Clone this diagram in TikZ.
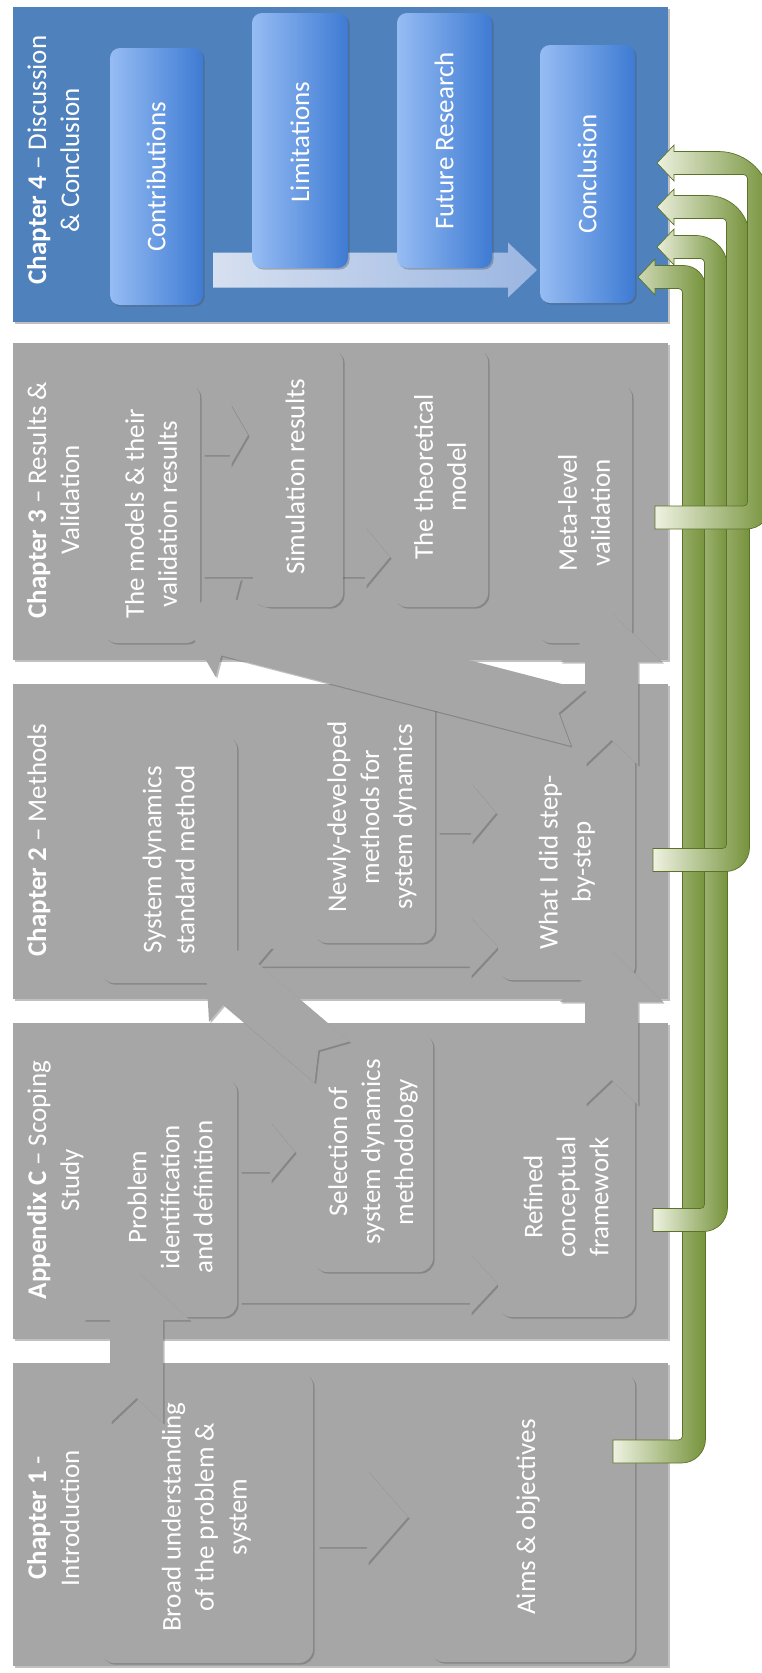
\documentclass[tikz,border=0pt]{standalone}
\usepackage{fontspec}
\setmainfont{Carlito}
\usetikzlibrary{calc,shadows}

\definecolor{bandgray}{HTML}{A6A6A6}
\definecolor{boxgray}{HTML}{A6A6A6}
\definecolor{bandblue}{HTML}{4F81BD}
\definecolor{boxbluelt}{HTML}{96BCF3}
\definecolor{boxbluedk}{HTML}{3E7BD3}
\definecolor{flowlt}{HTML}{E6EBF6}
\definecolor{flowdk}{HTML}{A3BCE6}
\definecolor{glight}{HTML}{EEF2E1}
\definecolor{ggreen}{HTML}{76933C}
\definecolor{gdark}{HTML}{5B7329}

\tikzset{
  softshadow/.style={drop shadow={shadow xshift=1.6pt, shadow yshift=-1.6pt, opacity=0.35, fill=black!70}},
  band/.style={fill=bandgray, inner sep=0pt, outer sep=0pt, softshadow},
  blueband/.style={fill=bandblue, inner sep=0pt, outer sep=0pt, softshadow},
  gbox/.style={fill=boxgray, rounded corners=14pt, inner sep=0pt, outer sep=0pt, softshadow},
  bbox/.style={rounded corners=10pt, inner sep=0pt, outer sep=0pt, left color=boxbluelt, right color=boxbluedk, softshadow},
  blockgray/.style={fill=boxgray, softshadow},
  flowarrow/.style={left color=flowlt, right color=flowdk, fill opacity=0.9},
  txt/.style={text=white, rotate=90, align=center, inner sep=0pt, font=\fontsize{27}{33}\selectfont},
  ttl/.style={txt, anchor=north},
}

% block arrow: tail, tip, shaft half-width, head half-width, head length, notch depth
\newcommand{\blockarrow}[7][blockgray]{%
  \coordinate (ba-h) at ($(#3)!#6!(#2)$);
  \coordinate (ba-n) at ($(#2)!#7!(#3)$);
  \path[#1] ($(#2)!#4!90:(#3)$) -- ($(ba-h)!#4!90:(#3)$) -- ($(ba-h)!#5!90:(#3)$) -- (#3)
     -- ($(ba-h)!#5!-90:(#3)$) -- ($(ba-h)!#4!-90:(#3)$) -- ($(#2)!#4!-90:(#3)$) -- (ba-n) -- cycle;}

% bent green arrow: tail x, tail y, riser x, head row y, tip x, outer radius of the upper bend
\newcommand{\bentarrow}[6]{%
  \shade[left color=glight, right color=ggreen, draw=gdark, line width=0.7pt]
    (#1,#2-11.5) [rounded corners=4pt] -- (#3-11.5,#2-11.5) -- (#3-11.5,#4+11.5)
    [sharp corners] -- (#5+17,#4+11.5) -- (#5+17,#4+18) -- (#5,#4) -- (#5+17,#4-18) -- (#5+17,#4-11.5)
    [rounded corners=#6pt] -- (#3+11.5,#4-11.5)
    [rounded corners=24pt] -- (#3+11.5,#2+11.5)
    [sharp corners] -- (#1,#2+11.5) -- cycle;}

\begin{document}
\begin{tikzpicture}[x=1pt,y=-1pt]
\useasboundingbox (0,0) rectangle (761,1673);
\fill[white] (0,0) rectangle (761,1673);

% chapter bands
\node[blueband, minimum width=655pt, minimum height=315pt] (ch4) at (340.5,164.5) {};
\node[band, minimum width=655pt, minimum height=317pt] (ch3) at (340.5,501.5) {};
\node[band, minimum width=655pt, minimum height=315pt] (ch2) at (340.5,841.5) {};
\node[band, minimum width=655pt, minimum height=316pt] (appc) at (340.5,1181) {};
\node[band, minimum width=655pt, minimum height=303pt] (ch1) at (340.5,1514.5) {};

% chapter 4: flow arrow under the boxes
\coordinate (flow-a) at (213,270);
\coordinate (flow-b) at (537,270);
\blockarrow[flowarrow]{flow-a}{flow-b}{17.5pt}{27.5pt}{29pt}{0pt}

\node[bbox, minimum width=93pt, minimum height=257pt] (contrib) at (156.5,176.5) {};
\node[bbox, minimum width=96pt, minimum height=255pt] (limits) at (300,140.5) {};
\node[bbox, minimum width=95pt, minimum height=255pt] (future) at (444.5,140.5) {};
\node[bbox, minimum width=95pt, minimum height=258pt] (conclusion) at (587.5,174) {};

% arrows between neighbouring steps
\coordinate (c1a) at (318,1517);   \coordinate (c1b) at (408,1517);
\coordinate (c2a) at (240,1152);   \coordinate (c2b) at (295,1152);
\coordinate (c3a) at (240,1284);   \coordinate (c3b) at (498,1284);
\coordinate (c4a) at (240,947);    \coordinate (c4b) at (498,947);
\coordinate (c5a) at (438,813);    \coordinate (c5b) at (496,813);
\coordinate (c6a) at (203,435);    \coordinate (c6b) at (248,435);
\coordinate (c7a) at (203,557);    \coordinate (c7b) at (390,557);
\blockarrow{c1a}{c1b}{30pt}{47pt}{41pt}{0pt}
\blockarrow{c2a}{c2b}{20pt}{30pt}{25pt}{0pt}
\blockarrow{c3a}{c3b}{19pt}{30pt}{28pt}{0pt}
\blockarrow{c4a}{c4b}{19.5pt}{30pt}{28pt}{0pt}
\blockarrow{c5a}{c5b}{20pt}{30pt}{25pt}{0pt}
\blockarrow{c6a}{c6b}{20pt}{31pt}{18pt}{0pt}
\blockarrow{c7a}{c7b}{20pt}{30pt}{25pt}{0pt}

% step boxes
\node[gbox, minimum width=213pt, minimum height=291pt] (broad) at (206.5,1517.5) {};
\node[gbox, minimum width=205pt, minimum height=290pt] (aims) at (532.5,1517) {};
\node[gbox, minimum width=134pt, minimum height=239pt] (problem) at (170,1197.5) {};
\node[gbox, minimum width=120pt, minimum height=239pt] (selection) at (373,1152.5) {};
\node[gbox, minimum width=137pt, minimum height=239pt] (refined) at (566.5,1197.5) {};
\node[gbox, minimum width=137pt, minimum height=248pt] (sysdyn) at (168.5,859) {};
\node[gbox, minimum width=122pt, minimum height=251pt] (newly) at (374,817.5) {};
\node[gbox, minimum width=137pt, minimum height=240pt] (whatidid) at (566.5,860) {};
\node[gbox, minimum width=97pt, minimum height=260pt] (models) at (151.5,513) {};
\node[gbox, minimum width=90pt, minimum height=259pt] (simulation) at (298,477.5) {};
\node[gbox, minimum width=95pt, minimum height=259pt] (theoretical) at (440.5,477.5) {};
\node[gbox, minimum width=95pt, minimum height=260pt] (meta) at (584.5,513) {};

% arrows crossing between chapters
\coordinate (b1a) at (136.5,1423);  \coordinate (b1b) at (136.5,1271);
\coordinate (b2a) at (611.5,1105);  \coordinate (b2b) at (611.5,950);
\coordinate (b3a) at (611.5,765);   \coordinate (b3b) at (611.5,613);
\coordinate (b4a) at (578,718);     \coordinate (b4b) at (180,615);
\coordinate (b5a) at (332,1062);    \coordinate (b5b) at (205,954);
\blockarrow{b1a}{b1b}{26.5pt}{53.5pt}{49pt}{25pt}
\blockarrow{b2a}{b2b}{26.5pt}{51.5pt}{52pt}{25pt}
\blockarrow{b3a}{b3b}{26.5pt}{51pt}{49pt}{25pt}
\blockarrow{b4a}{b4b}{28.8pt}{51pt}{50pt}{20pt}
\blockarrow{b5a}{b5b}{27pt}{49pt}{47pt}{18pt}

% chapter titles
\node[ttl] (ch1-t) at (27,1518) {\textbf{Chapter 1} -\\Introduction};
\node[ttl] (appc-t) at (27,1180) {\textbf{Appendix C} -- Scoping\\Study};
\node[ttl] (ch2-t) at (27,840) {\textbf{Chapter 2} -- Methods};
\node[ttl] (ch3-t) at (27,500) {\textbf{Chapter 3} -- Results \&\\Validation};
\node[ttl] (ch4-t) at (27,160) {\textbf{Chapter 4} -- Discussion\\\& Conclusion};

% step labels
\node[txt] (broad-t) at (206.5,1517) {Broad understanding\\of the problem \&\\system};
\node[txt] (aims-t) at (528,1517) {Aims \& objectives};
\node[txt] (problem-t) at (170,1197) {Problem\\identification\\and definition};
\node[txt] (selection-t) at (373,1152) {Selection of\\system dynamics\\methodology};
\node[txt] (refined-t) at (566,1197) {Refined\\conceptual\\framework};
\node[txt] (sysdyn-t) at (168.5,860) {System dynamics\\standard method};
\node[txt] (newly-t) at (372,817) {Newly-developed\\methods for\\system dynamics};
\node[txt] (whatidid-t) at (567,862) {What I did step-\\by-step};
\node[txt] (models-t) at (151,514) {The models \& their\\validation results};
\node[txt] (simulation-t) at (295,477) {Simulation results};
\node[txt] (theoretical-t) at (440,477) {The theoretical\\model};
\node[txt] (meta-t) at (584,513) {Meta-level\\validation};
\node[txt] (contrib-t) at (156,177) {Contributions};
\node[txt] (limits-t) at (300,142) {Limitations};
\node[txt] (future-t) at (444,141) {Future Research};
\node[txt] (conclusion-t) at (587,174) {Conclusion};

% feedback arrows into the conclusion
\bentarrow{613}{1451.5}{694}{277}{638}{22}
\bentarrow{653}{1220}{716}{247}{657}{32}
\bentarrow{653}{860}{738}{207}{657}{42}
\bentarrow{655}{517.5}{759}{163}{657}{52}
\end{tikzpicture}
\end{document}
